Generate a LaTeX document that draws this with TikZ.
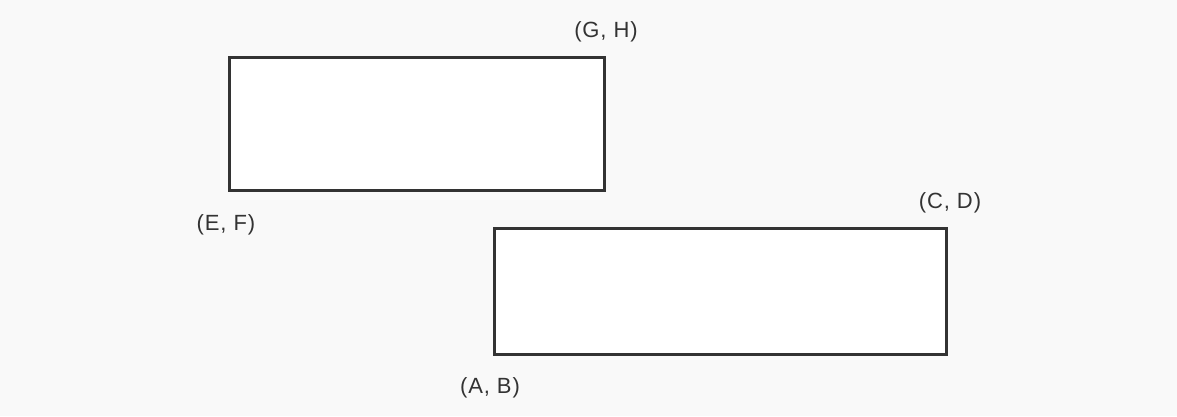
\documentclass[tikz,border=0pt]{standalone}
\usepackage{fontspec}
\setmainfont{Liberation Sans}[LetterSpace=4]
\definecolor{bg}{HTML}{F9F9F9}
\definecolor{ink}{HTML}{333333}
\begin{document}
\begin{tikzpicture}[x=1pt,y=-1pt,
  box/.style={draw=ink,fill=white,line width=3pt},
  lbl/.style={text=ink,font=\fontsize{22}{26}\selectfont,inner sep=0pt}]
\fill[bg] (0,0) rectangle (1177,416);
\useasboundingbox (0,0) rectangle (1177,416);
\draw[box] (229,57) rectangle (604,190);
\draw[box] (494,228) rectangle (946,354);
\node[lbl] (gh) at (606,32) {(G, H)};
\node[lbl] (ef) at (226,225) {(E, F)};
\node[lbl] (cd) at (950,203) {(C, D)};
\node[lbl] (ab) at (490,388) {(A, B)};
\end{tikzpicture}
\end{document}
